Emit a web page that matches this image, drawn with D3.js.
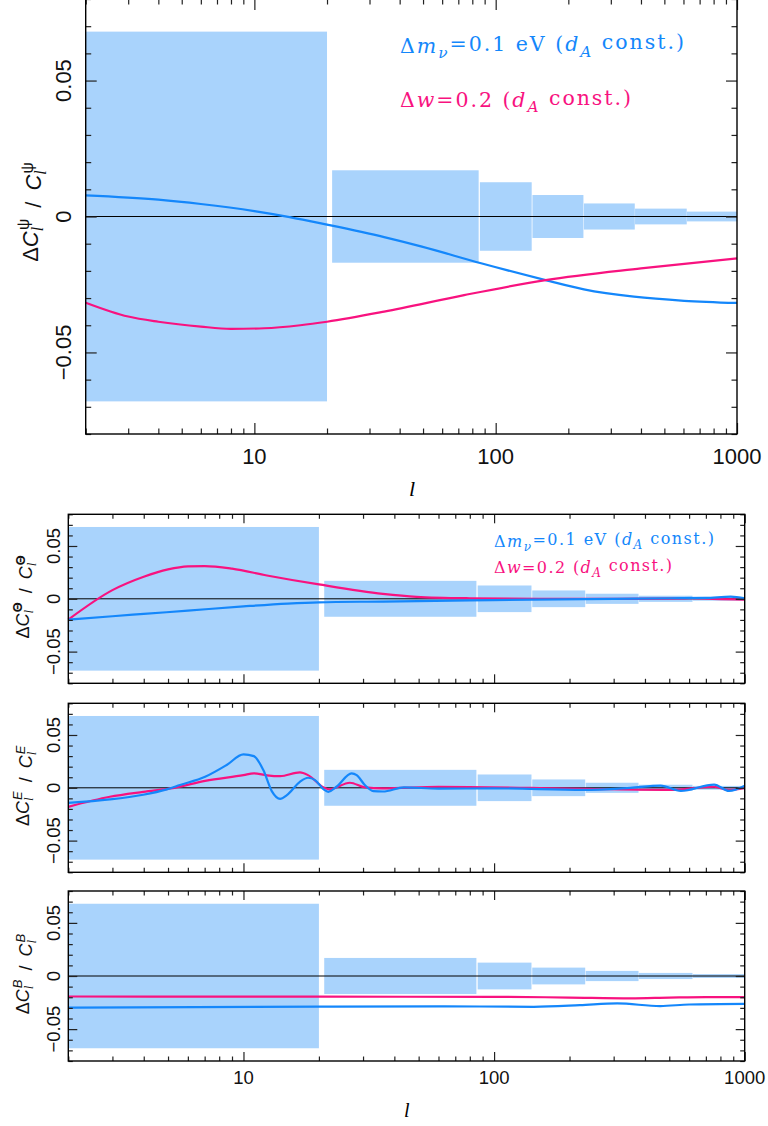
<!DOCTYPE html>
<html>
<head>
<style>
  body { margin: 0; background: #fff; }
  svg { display: block; }
  .tick line { stroke: #222; stroke-width: 1.2; }
</style>
</head>
<body>
<svg id="svg" width="768" height="1126"></svg>
<script src="https://cdn.jsdelivr.net/npm/d3@7"></script>
<script>
// bins of multipoles and cosmic variance errors
const binLo = [2, 21, 86, 142, 232, 378, 620];
const binHi = [20, 85, 141, 231, 377, 619, 1000];
const binErr = [0.068, 0.017, 0.0126, 0.0079, 0.0048, 0.0029, 0.0018];

// lensing potential panel
const psiNuEll = [2, 4, 6, 10, 14, 20, 34.5, 49, 87, 161, 232, 374, 604, 1000];
const psiNu = [0.0078, 0.0062, 0.0046, 0.0020, -0.0002, -0.0030, -0.0076, -0.0110, -0.0172, -0.0234, -0.0268, -0.0295, -0.0310, -0.0318];
const psiWEll = [2, 3, 4, 6, 8, 11, 15.5, 20, 34.5, 74, 161, 400, 1000];
const psiW = [-0.0317, -0.0368, -0.0387, -0.0405, -0.0413, -0.0411, -0.0400, -0.0387, -0.0350, -0.0289, -0.0234, -0.0191, -0.0154];

// temperature panel
const ttNuEll = [2, 3, 4, 6, 10, 15, 20, 36, 80, 140, 300, 500, 700, 880, 1000];
const ttNu = [-0.0197, -0.0165, -0.0143, -0.0112, -0.0072, -0.0045, -0.0033, -0.0026, -0.0015, -0.0007, 0.0, 0.0005, 0.0008, 0.0020, 0.0005];
const ttWEll = [2, 3, 4, 5, 6, 7, 9, 12.4, 20, 36, 49, 80, 150, 300, 600, 800, 1000];
const ttW = [-0.0197, 0.0082, 0.0209, 0.0278, 0.0307, 0.0310, 0.0285, 0.0221, 0.0136, 0.0047, 0.0019, 0.0005, 0.0, 0.0, 0.0005, -0.0003, -0.0008];

// E-mode panel
const eeNuEll = [2, 2.93, 3.98, 4.94, 5.58, 7.03, 8.57, 10, 11, 12, 12.97, 14, 14.9, 16.8, 18.1, 19.3, 20.9, 21.8, 23.5, 27, 28.3, 30.5, 33, 36, 43.7, 60, 100, 228, 350, 462, 556, 755, 866, 1000];
const eeNu = [-0.0142, -0.0110, -0.0066, -0.0015, 0.0026, 0.0104, 0.0216, 0.0317, 0.0300, 0.0168, -0.0031, -0.0104, -0.0069, 0.0057, 0.0095, 0.0073, -0.0015, -0.0038, 0.0010, 0.0137, 0.0120, 0.0026, -0.0031, -0.0035, 0.0004, -0.0008, -0.0005, -0.0020, 0.0, 0.0020, -0.0030, 0.0030, -0.0030, 0.0020];
const eeWEll = [2, 2.93, 3.98, 5.3, 7.03, 10, 11, 12.4, 14, 16.8, 18.1, 20.9, 22, 26.6, 30.5, 36, 60, 228, 500, 755, 866, 1000];
const eeW = [-0.0180, -0.0085, -0.0038, 0.0, 0.0066, 0.0120, 0.0137, 0.0118, 0.0110, 0.0146, 0.0120, 0.0004, -0.0015, 0.0048, 0.0004, -0.0005, 0.0010, -0.0010, -0.0020, 0.0010, -0.0020, 0.0];

// B-mode panel
const bbNuEll = [2, 20, 60, 144, 220, 310, 460, 600, 1000];
const bbNu = [-0.0298, -0.0288, -0.0285, -0.0290, -0.0275, -0.0258, -0.0283, -0.0268, -0.0262];
const bbWEll = [2, 20, 100, 200, 350, 500, 700, 1000];
const bbW = [-0.0193, -0.0195, -0.0196, -0.0203, -0.0210, -0.0203, -0.0198, -0.0198];

const majorX = [10, 100, 1000];
const majorY = [-0.05, 0, 0.05];
const yLabels = ["\u22120.05", "0", "0.05"];

const blue = "#1487fb";
const pink = "#f8127f";
const band = "#a9d3fc";

const svg = d3.select("#svg");

const panels = [
  { x0: 85.7, x1: 737, yt: -1, yb: 434, big: true, sup: "\u03c8", supItalic: false,
    curves: [[psiNuEll, psiNu, blue], [psiWEll, psiW, pink]] },
  { x0: 68.3, x1: 744.7, yt: 514.3, yb: 683.3, sup: "\u0398", supItalic: false, legend: true,
    curves: [[ttWEll, ttW, pink], [ttNuEll, ttNu, blue]] },
  { x0: 68.3, x1: 744.7, yt: 703.3, yb: 872.3, sup: "E", supItalic: true,
    curves: [[eeWEll, eeW, pink], [eeNuEll, eeNu, blue]] },
  { x0: 68.3, x1: 744.7, yt: 891, yb: 1061, sup: "B", supItalic: true, labels: true,
    curves: [[bbWEll, bbW, pink], [bbNuEll, bbNu, blue]] }
];

panels.forEach(p => {
  const x = d3.scaleLog().domain([2, 1000]).range([p.x0, p.x1]);
  const y = d3.scaleLinear().domain([-0.08, 0.08]).range([p.yb, p.yt]);
  const g = svg.append("g");
  const fs = p.big ? 22 : 18.5;
  const tl = p.big ? 11 : 9;

  // error boxes
  g.selectAll(".bin")
    .data(binLo)
    .enter().append("rect")
    .attr("x", (d, i) => x(binLo[i]))
    .attr("width", (d, i) => x(binHi[i]) - x(binLo[i]))
    .attr("y", (d, i) => y(binErr[i]))
    .attr("height", (d, i) => y(-binErr[i]) - y(binErr[i]))
    .attr("fill", band);

  g.append("line")
    .attr("x1", p.x0).attr("x2", p.x1)
    .attr("y1", y(0)).attr("y2", y(0))
    .attr("stroke", "#000").attr("stroke-width", 1);

  const line = d3.line()
    .x(d => x(d[0]))
    .y(d => y(d[1]))
    .curve(d3.curveMonotoneX);

  p.curves.forEach(c => {
    g.append("path")
      .datum(c[0].map((l, i) => [l, c[1][i]]))
      .attr("d", line)
      .attr("fill", "none")
      .attr("stroke", c[2])
      .attr("stroke-width", 2.2);
  });

  // ticks on all four sides
  const minorX = x.ticks().filter(v => !majorX.includes(v));
  const minorY = d3.range(-8, 9).map(v => v / 100).filter(v => !majorY.some(m => Math.abs(m - v) < 1e-9));
  const addAxis = (axis, tx, ty) => {
    const a = g.append("g").attr("transform", `translate(${tx},${ty})`).call(axis);
    a.select(".domain").remove();
  };
  [[minorX, tl / 2], [majorX, tl]].forEach(([vals, len]) => {
    addAxis(d3.axisBottom(x).tickValues(vals).tickSize(-len).tickFormat(""), 0, p.yb);
    addAxis(d3.axisTop(x).tickValues(vals).tickSize(-len).tickFormat(""), 0, p.yt);
  });
  [[minorY, tl / 2], [majorY, tl]].forEach(([vals, len]) => {
    addAxis(d3.axisLeft(y).tickValues(vals).tickSize(-len).tickFormat(""), p.x0, 0);
    addAxis(d3.axisRight(y).tickValues(vals).tickSize(-len).tickFormat(""), p.x1, 0);
  });

  g.append("rect")
    .attr("x", p.x0).attr("y", p.yt)
    .attr("width", p.x1 - p.x0).attr("height", p.yb - p.yt)
    .attr("fill", "none").attr("stroke", "#000").attr("stroke-width", 1.4);

  // y tick labels, rotated
  const lx = p.big ? 70.5 : 60;
  g.selectAll(".ylab")
    .data(majorY)
    .enter().append("text")
    .attr("transform", d => `translate(${lx},${y(d)}) rotate(-90)`)
    .attr("text-anchor", "middle")
    .style("font-family", "Liberation Sans, Arial, sans-serif")
    .style("font-size", fs + "px")
    .attr("fill", "#111")
    .text((d, i) => yLabels[i]);

  // x tick labels
  if (p.big || p.labels) {
    g.selectAll(".xlab")
      .data(majorX)
      .enter().append("text")
      .attr("x", d => x(d))
      .attr("y", p.yb + (p.big ? 29.5 : 22.5))
      .attr("text-anchor", "middle")
      .style("font-family", "Liberation Sans, Arial, sans-serif")
      .style("font-size", fs + "px")
      .attr("fill", "#111")
      .text(d => d);
    svg.append("text")
      .attr("x", p.big ? 409 : 404)
      .attr("y", p.yb + (p.big ? 62 : 56))
      .style("font-family", "Liberation Serif, serif")
      .style("font-style", "italic")
      .style("font-size", p.big ? "22px" : "20px")
      .text("l");
  }

  // y axis title: Delta C_l^X / C_l^X
  const cx = p.big ? 38 : 29;
  const cy = p.big ? 212 : y(0) - 2;
  const t = svg.append("text")
    .attr("transform", `translate(${cx},${cy}) rotate(-90)`)
    .attr("text-anchor", "middle")
    .style("font-family", "Liberation Sans, Arial, sans-serif")
    .style("font-size", (p.big ? 22 : 18) + "px")
    .attr("fill", "#111");
  const addC = () => {
    t.append("tspan").style("font-style", "italic").text("C");
    t.append("tspan").attr("dy", "0.3em").style("font-size", "0.72em")
      .style("font-family", "Liberation Serif, serif").style("font-style", "italic").text("l");
    t.append("tspan").attr("dx", "-0.2em").attr("dy", "-0.85em").style("font-size", "0.72em")
      .style("font-style", p.supItalic ? "italic" : "normal")
      .style("font-weight", p.sup === "\u0398" ? "bold" : "normal")
      .text(p.sup);
  };
  t.append("tspan").text("\u0394");
  addC();
  t.append("tspan").attr("dy", "0.55em").text("\u2002/\u2002");
  addC();

  // legend
  if (p.big || p.legend) {
    const lfs = p.big ? 20.5 : 16;
    const lx0 = p.big ? 400 : 494;
    const lys = p.big ? [53, 107] : [546.5, 572.5];
    const lens = p.big ? [284, 231] : [220, 178];
    const leg = [
      { c: blue, parts: [["\u0394", ""], ["m", "i"], ["\u03bd", "subi"], ["=0.1 eV (", ""], ["d", "i"], ["A", "subi"], [" const.)", ""]] },
      { c: pink, parts: [["\u0394", ""], ["w", "i"], ["=0.2 (", ""], ["d", "i"], ["A", "subi"], [" const.)", ""]] }
    ];
    leg.forEach((L, k) => {
      const tt = svg.append("text")
        .attr("x", lx0).attr("y", lys[k])
        .attr("fill", L.c)
        .attr("textLength", lens[k])
        .attr("lengthAdjust", "spacing")
        .style("font-family", "DejaVu Serif, serif")
        .style("font-size", lfs + "px");
      let down = false;
      L.parts.forEach(([s, k2]) => {
        const sp = tt.append("tspan").text(s);
        if (k2 === "i" || k2 === "subi") sp.style("font-style", "italic");
        if (k2 === "sub" || k2 === "subi") {
          sp.attr("dy", "0.35em").style("font-size", "0.75em");
          down = true;
        } else if (down) {
          sp.attr("dy", "-0.35em");
          down = false;
        }
      });
    });
  }
});
</script>
</body>
</html>
